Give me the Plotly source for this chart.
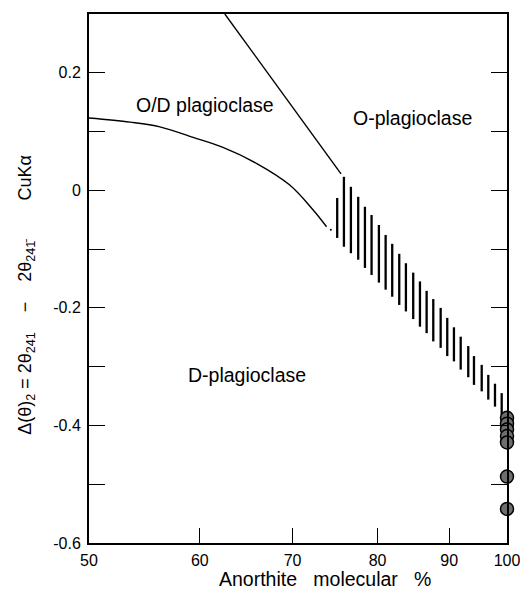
import numpy as np
import plotly.graph_objects as go

# ---- data ----
an_ticks = [50, 60, 70, 80, 90, 100]          # anorthite tick labels
an_tick_text = ["50", "60", "70", "80", "90", "100"]

# non-linear composition scale of the original diagram (axis calibration)
AXIS_CAL = [0.0, 110.7, 203.4, 288.4, 360.0, 417.7]

def to_axis(v):
    return np.interp(np.asarray(v, dtype=float), an_ticks, AXIS_CAL)

# upper boundary line  (O/D  |  O)
upper_an = [62.7, 75.7]
upper_y = [0.300, 0.028]

# lower boundary curve (O/D  |  D)
od_an = [50.0, 53.7, 56.4, 59.4, 62.5, 66.1, 69.7, 72.4, 74.0]
od_y = [0.123, 0.116, 0.108, 0.090, 0.073, 0.046, 0.009, -0.033, -0.062]
od_dot_an = [74.5]
od_dot_y = [-0.067]

# hatched band (vertical strokes)
hatch_an = [75.25, 76.04, 76.86, 77.72, 78.51, 79.29, 80.18, 81.12, 82.04, 83.02,
            83.95, 84.97, 85.91, 86.84, 87.77, 88.80, 89.72, 90.81, 91.98, 93.29,
            94.28, 95.62, 96.76, 97.92, 99.08]
hatch_top = [-0.013, 0.023, 0.006, -0.011, -0.028, -0.042, -0.059, -0.076, -0.091, -0.108,
             -0.124, -0.140, -0.155, -0.171, -0.185, -0.200, -0.217, -0.233, -0.249, -0.265,
             -0.282, -0.297, -0.314, -0.329, -0.345]
hatch_bot = [-0.081, -0.096, -0.107, -0.118, -0.132, -0.144, -0.157, -0.169, -0.181, -0.195,
             -0.206, -0.219, -0.232, -0.243, -0.257, -0.268, -0.282, -0.291, -0.305, -0.318,
             -0.331, -0.342, -0.356, -0.368, -0.382]

# measured points at An100
pts_an = [100, 100, 100, 100, 100, 100, 100]
pts_y = [-0.387, -0.397, -0.407, -0.418, -0.429, -0.487, -0.542]

y_ticks = [-0.6, -0.5, -0.4, -0.3, -0.2, -0.1, 0.0, 0.1, 0.2]
y_tick_text = ["-0.6", "", "-0.4", "", "-0.2", "", "0", "", "0.2"]

labels = ["O/D plagioclase", "O-plagioclase", "D-plagioclase"]
label_an = [60.6, 84.8, 65.1]
label_y = [0.145, 0.123, -0.314]

# ---- figure ----
FONT = "Liberation Sans, Arial, sans-serif"
fig = go.Figure()

fig.add_trace(go.Scatter(x=to_axis(upper_an), y=upper_y, mode="lines",
                         line=dict(color="black", width=1.4), showlegend=False))
fig.add_trace(go.Scatter(x=to_axis(od_an), y=od_y, mode="lines",
                         line=dict(color="black", width=1.4, shape="spline"),
                         showlegend=False))
fig.add_trace(go.Scatter(x=to_axis(od_dot_an), y=od_dot_y, mode="markers",
                         marker=dict(color="black", size=2), showlegend=False))

hx, hy = [], []
for a, t, b in zip(to_axis(hatch_an), hatch_top, hatch_bot):
    hx += [a, a, None]
    hy += [t, b, None]
fig.add_trace(go.Scatter(x=hx, y=hy, mode="lines",
                         line=dict(color="black", width=2.3), showlegend=False))

fig.add_trace(go.Scatter(x=to_axis(pts_an), y=pts_y, mode="markers", cliponaxis=False,
                         marker=dict(size=13, color="#6e6e6e",
                                     line=dict(color="black", width=1.5)),
                         showlegend=False))

for t, a, y in zip(labels, label_an, label_y):
    fig.add_annotation(x=float(to_axis(a)), y=y, xref="x", yref="y", text=t,
                       showarrow=False, font=dict(family=FONT, size=19.5, color="black"))

nb = "\u00a0"
ytitle = ("Δ(θ)<sub>2</sub> = 2θ<sub>241</sub>" + nb * 4 + "−" + nb * 4 +
          "2θ<sub>241\u0304</sub>" + nb * 8 + "CuKα")
fig.add_annotation(x=-0.182, y=0.47, xref="paper", yref="paper", text=ytitle,
                   textangle=-90, showarrow=False,
                   font=dict(family=FONT, size=18, color="black"))

fig.add_annotation(x=0.565, y=-0.068, xref="paper", yref="paper",
                   text="Anorthite" + nb * 3 + "molecular" + nb * 3 + "%",
                   showarrow=False, yanchor="middle",
                   font=dict(family=FONT, size=19.5, color="black"))

fig.update_layout(
    width=520, height=597,
    margin=dict(l=89, r=13, t=14, b=54, autoexpand=False),
    plot_bgcolor="white", paper_bgcolor="white",
    font=dict(family=FONT, color="black"),
    xaxis=dict(range=[0, AXIS_CAL[-1]], tickvals=to_axis(an_ticks), ticktext=an_tick_text,
               ticks="inside", ticklen=15, tickwidth=1.3, tickcolor="black",
               showline=True, linecolor="black", linewidth=2, mirror=True,
               showgrid=False, zeroline=False, automargin=False, ticklabelstandoff=2,
               ticklabeloverflow="allow",
               tickfont=dict(family=FONT, size=16, color="black")),
    yaxis=dict(range=[-0.6, 0.3], tickvals=y_ticks, ticktext=y_tick_text,
               ticks="inside", ticklen=16, tickwidth=1.3, tickcolor="black",
               showline=True, linecolor="black", linewidth=2, mirror="ticks",
               showgrid=False, zeroline=False, ticklabelstandoff=3, automargin=False,
               ticklabeloverflow="allow",
               tickfont=dict(family=FONT, size=16, color="black")),
)

fig.write_html("out.html", config={"displayModeBar": False},
               post_script="document.body.style.margin='0';"
                           "document.body.style.overflow='hidden';")
